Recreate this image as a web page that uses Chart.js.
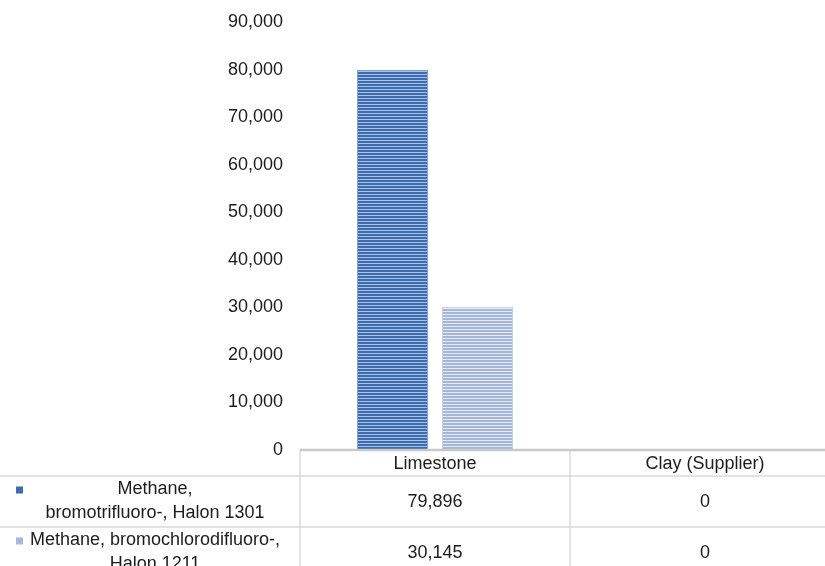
<!DOCTYPE html>
<html>
<head>
<meta charset="utf-8">
<script src="https://cdn.jsdelivr.net/npm/chart.js@4/dist/chart.umd.min.js"></script>
<style>
  html, body { margin: 0; padding: 0; background: #ffffff; overflow: hidden; }
  #wrap { width: 840px; height: 566px; }
</style>
</head>
<body>
<div id="wrap"><canvas id="c" width="840" height="566"></canvas></div>
<script>
// Categories (table columns) and the two halon series
const categories = ['Limestone', 'Clay (Supplier)'];
const halon1301 = [79896, 0];
const halon1211 = [30145, 0];
// Series names as they wrap in the data table
const seriesNames = [
  ['Methane,', 'bromotrifluoro-, Halon 1301'],
  ['Methane, bromochlorodifluoro-,', 'Halon 1211']
];
const yMax = 90000;
const yStep = 10000;

const FONT = "'Liberation Sans', Arial, sans-serif";
const TEXT = '#1c1c1c';

// Horizontal striped fills for the bars
function stripes(dark, light, darkRows, lightRows) {
  const c = document.createElement('canvas');
  c.width = 4;
  c.height = darkRows + lightRows;
  const g = c.getContext('2d');
  g.fillStyle = dark;
  g.fillRect(0, 0, 4, darkRows);
  g.fillStyle = light;
  g.fillRect(0, darkRows, 4, lightRows);
  return g.createPattern(c, 'repeat');
}
const fill1301 = stripes('#3f6cae', '#a9c2e8', 2, 1);
const fill1211 = stripes('#a4b6db', '#e6ecf7', 2, 1);
const swatches = ['#3f6cae', '#a6b8dc'];

const fmt = v => v.toLocaleString('en-US');

// Data table under the plot: header row with categories, one row per series
const dataTable = {
  id: 'dataTable',
  afterDraw(chart) {
    const ctx = chart.ctx;
    const area = chart.chartArea;
    const x = chart.scales.x;
    const W = chart.width;
    const top = area.bottom;
    const headerH = 26;
    const rowH = 51;
    const rowTops = [top + headerH, top + headerH + rowH];
    const colW = x.getPixelForValue(1) - x.getPixelForValue(0);
    const colEdges = categories.map((c, i) => x.getPixelForValue(i) - colW / 2);

    ctx.save();
    // grid lines
    ctx.strokeStyle = '#dadada';
    ctx.lineWidth = 1.5;
    ctx.beginPath();
    rowTops.forEach(y => { ctx.moveTo(0, y); ctx.lineTo(W, y); });
    colEdges.forEach(cx => { ctx.moveTo(cx, top); ctx.lineTo(cx, chart.height); });
    ctx.stroke();
    // axis line along the top of the table
    ctx.strokeStyle = '#c9c9c9';
    ctx.lineWidth = 2.5;
    ctx.beginPath();
    ctx.moveTo(area.left, top);
    ctx.lineTo(W, top);
    ctx.stroke();

    ctx.fillStyle = TEXT;
    ctx.font = '18px ' + FONT;
    ctx.textAlign = 'center';
    ctx.textBaseline = 'middle';
    // header labels
    categories.forEach((c, i) => ctx.fillText(c, x.getPixelForValue(i), top + headerH / 2 + 1));
    // value rows
    const series = [halon1301, halon1211];
    series.forEach((vals, r) => {
      const cy = rowTops[r] + rowH / 2;
      vals.forEach((v, i) => ctx.fillText(fmt(v), x.getPixelForValue(i), cy + 1));
      const lines = seriesNames[r];
      const lh = 24;
      const y0 = cy - (lines.length - 1) * lh / 2;
      lines.forEach((t, k) => ctx.fillText(t, 155, y0 + k * lh));
      // legend swatch
      ctx.fillStyle = swatches[r];
      ctx.fillRect(16, y0 - 3, 7, 7);
      ctx.fillStyle = TEXT;
    });
    ctx.restore();
  }
};

new Chart(document.getElementById('c'), {
  type: 'bar',
  data: {
    labels: categories,
    datasets: [
      {
        label: seriesNames[0].join(' '),
        data: halon1301,
        backgroundColor: fill1301,
        borderColor: '#7e9fd2',
        borderWidth: 1,
        categoryPercentage: 0.63,
        barPercentage: 0.835
      },
      {
        label: seriesNames[1].join(' '),
        data: halon1211,
        backgroundColor: fill1211,
        borderColor: '#c3cfe8',
        borderWidth: 1,
        categoryPercentage: 0.63,
        barPercentage: 0.835
      }
    ]
  },
  options: {
    responsive: false,
    animation: false,
    layout: { padding: { top: 22, bottom: 116, left: 0, right: 0 } },
    plugins: { legend: { display: false }, tooltip: { enabled: false } },
    scales: {
      x: { display: false },
      y: {
        min: 0,
        max: yMax,
        afterFit(scale) {
          scale.width = 300;
          scale.paddingTop = 0;
          scale.paddingBottom = 0;
        },
        grid: { display: false, drawTicks: false },
        border: { display: false },
        ticks: {
          stepSize: yStep,
          padding: 17,
          color: TEXT,
          font: { family: FONT, size: 18 },
          callback: v => fmt(v)
        }
      }
    }
  },
  plugins: [dataTable]
});
</script>
</body>
</html>
